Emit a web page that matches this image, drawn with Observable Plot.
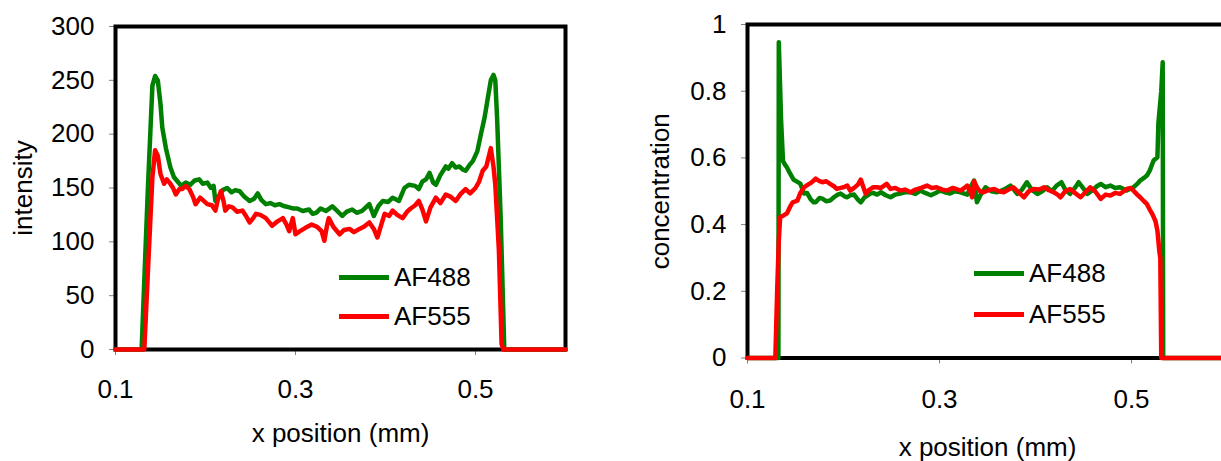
<!DOCTYPE html>
<html>
<head>
<meta charset="utf-8">
<script src="https://cdn.jsdelivr.net/npm/d3@7"></script>
<script src="https://cdn.jsdelivr.net/npm/@observablehq/plot@0.6"></script>
<style>
  html, body { margin: 0; padding: 0; background: #fff; }
  body { width: 1221px; height: 461px; overflow: hidden; position: relative; font-family: "Liberation Sans", Arial, sans-serif; }
  .panel { position: absolute; top: 0; }
  .panel svg { max-width: none !important; display: block; }
  .leg { position: absolute; display: flex; align-items: center; height: 30px; font-size: 26px; line-height: 30px; color: #000; white-space: nowrap; }
  .sw { display: inline-block; width: 50px; height: 5px; margin-right: 5px; }
</style>
</head>
<body>
<div id="left" class="panel" style="left:0;width:600px"></div>
<div id="right" class="panel" style="left:600px;width:640px"></div>
<div id="legends"></div>
<script>
// ---------- data ----------
const seriesNames = ["AF488", "AF555"];
const seriesColors = ["#008000", "#ff0000"];
const xTicks = [0.1, 0.3, 0.5];
const intensityTicks = [0, 50, 100, 150, 200, 250, 300];
const concentrationTicks = [0, 0.2, 0.4, 0.6, 0.8, 1];
const xTitle = "x position (mm)";
const intensityTitle = "intensity";
const concentrationTitle = "concentration";

// Left panel: intensity, AF488
const intX488 = [0.100,0.129,0.136,0.141,0.144,0.147,0.150,0.152,0.156,0.161,0.165,0.169,0.173,0.178,0.183,0.188,0.193,0.197,0.202,0.206,0.209,0.211,0.214,0.219,0.224,0.229,0.233,0.238,0.243,0.249,0.254,0.258,0.262,0.267,0.272,0.277,0.282,0.288,0.293,0.297,0.302,0.308,0.315,0.319,0.323,0.328,0.334,0.341,0.346,0.352,0.357,0.363,0.368,0.374,0.382,0.387,0.392,0.397,0.403,0.408,0.415,0.421,0.426,0.433,0.437,0.441,0.445,0.449,0.453,0.456,0.461,0.467,0.470,0.474,0.478,0.482,0.486,0.489,0.493,0.497,0.502,0.506,0.510,0.514,0.517,0.520,0.522,0.524,0.528,0.532,0.600];
const intY488 = [0,0,150,245,254,250,228,206,187,169,160,156,152,155,153,157,158,154,155,150,152,138,140,148,150,146,148,147,142,138,140,145,139,135,136,134,135,133,132,131,131,128.7,130,126,127,131,128.7,133,129,124,128,130,127,128.7,135,124,133,138,137,141,138,150,153,152,149,156,158,164,155,153,162,170,168,173,169,170,167,166,171,175,184,200,215,235,250,255,250,215,122,0,0];

// Left panel: intensity, AF555
const intX555 = [0.100,0.132,0.137,0.141,0.144,0.147,0.150,0.154,0.157,0.160,0.164,0.167,0.171,0.174,0.178,0.182,0.186,0.189,0.194,0.198,0.202,0.207,0.211,0.214,0.217,0.220,0.222,0.226,0.230,0.235,0.241,0.245,0.249,0.253,0.256,0.261,0.267,0.270,0.274,0.280,0.286,0.290,0.293,0.297,0.300,0.305,0.311,0.318,0.324,0.329,0.332,0.335,0.337,0.342,0.349,0.354,0.360,0.365,0.371,0.376,0.382,0.387,0.391,0.395,0.399,0.404,0.408,0.413,0.419,0.424,0.428,0.433,0.437,0.441,0.445,0.450,0.456,0.461,0.467,0.472,0.478,0.483,0.489,0.494,0.500,0.504,0.508,0.512,0.517,0.520,0.522,0.526,0.529,0.531,0.600];
const intY555 = [0,0,90,160,185,180,163,154,158,155,150,144,149,149,152,149,142,135,141,138,135,134,129,140,147,138,129,133,132,128,129,124,118,122,126,125,122,119,115,119,122,116,110,122,107,110,113,116,114,110,101,115,122,114,107,111,112,109,112,114,118,112,104,115,126,124,129,125,122,128,131,134,138,130,119,132,141,136,144,142,138,144,149,145,150,156,166,170,187,170,153,92,5,0,0];

// Right panel: concentration, AF488
const conX488 = [0.100,0.1322,0.1326,0.135,0.137,0.139,0.141,0.144,0.148,0.152,0.155,0.159,0.162,0.166,0.169,0.171,0.175,0.178,0.182,0.186,0.190,0.194,0.197,0.201,0.204,0.207,0.211,0.215,0.218,0.222,0.228,0.231,0.235,0.239,0.244,0.249,0.254,0.259,0.264,0.270,0.275,0.280,0.285,0.291,0.296,0.301,0.306,0.311,0.316,0.322,0.329,0.332,0.336,0.339,0.343,0.348,0.354,0.360,0.367,0.374,0.381,0.386,0.391,0.396,0.402,0.407,0.412,0.417,0.422,0.427,0.431,0.436,0.441,0.445,0.450,0.454,0.460,0.464,0.468,0.473,0.478,0.483,0.488,0.495,0.502,0.506,0.509,0.513,0.516,0.519,0.523,0.527,0.528,0.531,0.5325,0.533,0.600];
const conY488 = [0,0,0.947,0.712,0.59,0.58,0.572,0.555,0.535,0.528,0.523,0.493,0.495,0.475,0.467,0.467,0.48,0.478,0.47,0.472,0.482,0.49,0.493,0.485,0.482,0.488,0.49,0.475,0.467,0.482,0.493,0.495,0.49,0.497,0.488,0.482,0.49,0.493,0.497,0.497,0.492,0.502,0.495,0.488,0.495,0.502,0.497,0.493,0.5,0.497,0.49,0.51,0.532,0.467,0.49,0.512,0.5,0.497,0.505,0.517,0.492,0.505,0.527,0.505,0.492,0.5,0.512,0.5,0.517,0.527,0.505,0.492,0.51,0.527,0.508,0.492,0.505,0.515,0.522,0.512,0.517,0.51,0.512,0.502,0.512,0.522,0.532,0.54,0.547,0.562,0.592,0.602,0.703,0.8,0.887,0,0];

// Right panel: concentration, AF555
const conX555 = [0.100,0.129,0.131,0.1326,0.134,0.136,0.139,0.141,0.145,0.147,0.150,0.152,0.155,0.159,0.163,0.166,0.169,0.171,0.175,0.178,0.182,0.186,0.190,0.193,0.197,0.200,0.204,0.207,0.211,0.215,0.218,0.221,0.223,0.227,0.231,0.235,0.239,0.245,0.249,0.254,0.259,0.264,0.270,0.275,0.281,0.287,0.292,0.297,0.303,0.308,0.314,0.322,0.326,0.329,0.332,0.334,0.336,0.339,0.342,0.346,0.351,0.357,0.362,0.367,0.372,0.377,0.383,0.388,0.393,0.398,0.404,0.409,0.414,0.419,0.423,0.426,0.431,0.436,0.441,0.447,0.452,0.457,0.462,0.468,0.473,0.478,0.483,0.488,0.492,0.495,0.499,0.502,0.506,0.509,0.513,0.516,0.519,0.522,0.525,0.527,0.529,0.530,0.531,0.600];
const conY555 = [0,0,0.212,0.352,0.422,0.425,0.43,0.433,0.457,0.467,0.47,0.472,0.495,0.512,0.52,0.525,0.532,0.538,0.53,0.527,0.53,0.522,0.515,0.507,0.51,0.512,0.517,0.502,0.51,0.52,0.535,0.51,0.493,0.505,0.512,0.512,0.51,0.522,0.507,0.51,0.502,0.505,0.497,0.505,0.51,0.517,0.51,0.512,0.505,0.502,0.51,0.502,0.51,0.517,0.5,0.482,0.53,0.512,0.5,0.497,0.503,0.507,0.5,0.497,0.505,0.512,0.495,0.482,0.5,0.507,0.505,0.512,0.503,0.497,0.49,0.482,0.5,0.507,0.495,0.482,0.497,0.512,0.5,0.477,0.49,0.487,0.495,0.492,0.5,0.507,0.51,0.502,0.49,0.482,0.47,0.462,0.445,0.43,0.41,0.382,0.32,0.3,0,0];

// ---------- build ----------
const toRows = (xs, ys) => xs.map((x, i) => ({x, y: ys[i]}));
const font = '"Liberation Sans", Arial, sans-serif';

function panel({width, height, marginLeft, marginRight, marginTop, marginBottom, yDomain, yTicks, yFormat, yTitle, yTitleDx, xTitleDy, xTickPadding, series}) {
  return Plot.plot({
    width, height, marginLeft, marginRight, marginTop, marginBottom,
    x: {domain: [0.1, 0.6]},
    y: {domain: yDomain},
    style: {fontFamily: font, fontSize: "26px", color: "#000", background: "transparent", overflow: "visible", maxWidth: "none"},
    marks: [
      Plot.axisY({ticks: yTicks, tickSize: 6, tickPadding: 15, stroke: "#808080", fill: "#000", fontSize: 26, label: null, tickFormat: yFormat}),
      Plot.axisX({ticks: xTicks, tickSize: 6, tickPadding: xTickPadding, stroke: "#808080", fill: "#000", fontSize: 26, label: null, tickFormat: d3.format(".1f")}),
      Plot.frame({stroke: "#000", strokeWidth: 4}),
      ...series.map((s, i) => Plot.line(s, {x: "x", y: "y", stroke: seriesColors[i], strokeWidth: 4.5, strokeLinejoin: "round", strokeLinecap: "round"})),
      Plot.text([yTitle], {text: d => d, frameAnchor: "left", textAnchor: "middle", lineAnchor: "middle", dx: yTitleDx, rotate: -90, fontSize: 26, fill: "#000"}),
      Plot.text([xTitle], {text: d => d, frameAnchor: "bottom", textAnchor: "middle", lineAnchor: "middle", dy: xTitleDy, fontSize: 26, fill: "#000"})
    ]
  });
}

document.getElementById("left").append(panel({
  width: 600, height: 461, marginLeft: 115, marginRight: 35, marginTop: 26, marginBottom: 112,
  yDomain: [0, 300], yTicks: intensityTicks, yFormat: d3.format("d"), yTitle: intensityTitle, yTitleDx: -92, xTitleDy: 84, xTickPadding: 24,
  series: [toRows(intX488, intY488), toRows(intX555, intY555)]
}));

document.getElementById("right").append(panel({
  width: 640, height: 461, marginLeft: 147, marginRight: 13, marginTop: 24, marginBottom: 103.5,
  yDomain: [0, 1], yTicks: concentrationTicks, yFormat: d => d3.format("")(d), yTitle: concentrationTitle, yTitleDx: -87, xTitleDy: 90, xTickPadding: 26,
  series: [toRows(conX488, conY488), toRows(conX555, conY555)]
}));

// legends (HTML, real text)
const legendSpots = [
  {left: 339, tops: [262, 301]},
  {left: 974, tops: [258, 299]}
];
const legHost = document.getElementById("legends");
legendSpots.forEach(spot => {
  seriesNames.forEach((name, i) => {
    const d = document.createElement("div");
    d.className = "leg";
    d.style.left = spot.left + "px";
    d.style.top = spot.tops[i] + "px";
    const sw = document.createElement("span");
    sw.className = "sw";
    sw.style.background = seriesColors[i];
    d.append(sw, document.createTextNode(name));
    legHost.append(d);
  });
});
</script>
</body>
</html>
